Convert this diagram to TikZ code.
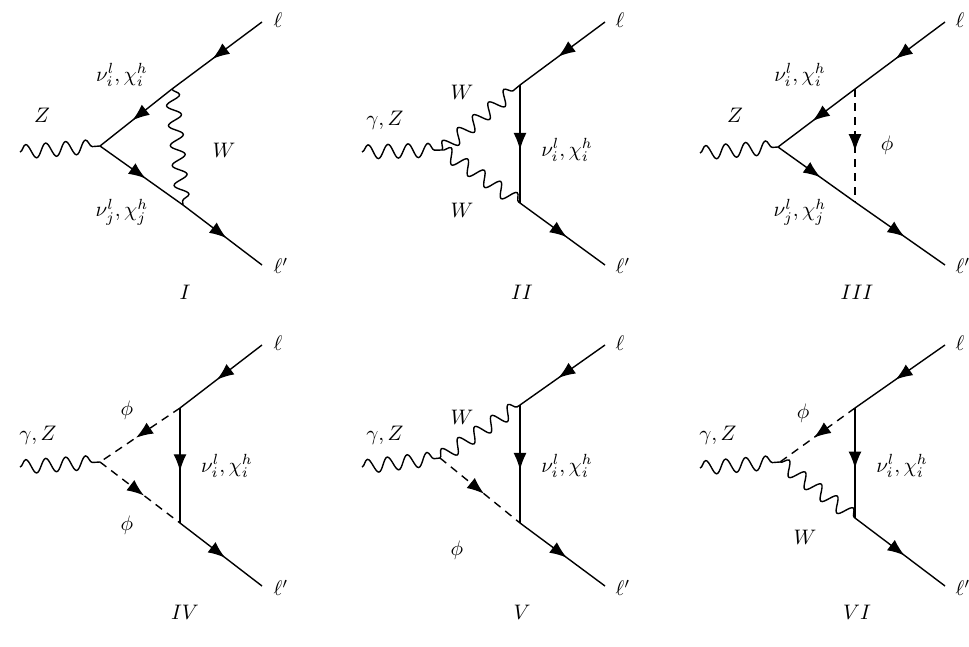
\documentclass[tikz,border=0pt]{standalone}
\usetikzlibrary{decorations.pathmorphing,decorations.markings,arrows.meta}
\newcommand\lb[1]{\scalebox{2.1}{$#1$}}
\begin{document}
\begin{tikzpicture}[x=1pt,y=-1pt,
  line width=1.4pt,
  wave/.style={decorate,decoration={snake,amplitude=7pt,segment length=20pt}},
  ferm/.style={postaction={decorate},decoration={markings,mark=at position 0.55 with {\arrow{Latex[length=17pt,width=13pt]}}}},
  scal/.style={dashed,dash pattern=on 8pt off 6pt},
  lbl/.style={inner sep=0pt}]
\useasboundingbox (0,0) rectangle (969,646);
% ---------- I
\coordinate (Iz) at (20,152); \coordinate (Iv) at (100,146);
\coordinate (Il) at (262,22); \coordinate (Ilp) at (262,265);
\coordinate (Ia) at (172,89); \coordinate (Ib) at (183,205);
\draw[wave] (Iz) -- (Iv);
\draw[ferm] (Il) -- (Ia); \draw[ferm] (Ia) -- (Iv);
\draw[ferm] (Iv) -- (Ib); \draw[ferm] (Ib) -- (Ilp);
\draw[wave] (Ia) -- (Ib);
\node[lbl] (Il-t) at (278,20) {\lb{\ell}};
\node[lbl] (Ilp-t) at (281,266) {\lb{\ell'}};
\node[lbl] (IZ-t) at (42,115) {\lb{Z}};
\node[lbl] (Inu1) at (122,75) {\lb{\nu^l_i,\chi^h_i}};
\node[lbl] (Inu2) at (122,212) {\lb{\nu^l_j,\chi^h_j}};
\node[lbl] (IW) at (224,150) {\lb{W}};
\node[lbl] (In) at (185,292) {\lb{I}};
% ---------- II
\coordinate (Bz) at (362,152); \coordinate (Bv) at (442,150);
\coordinate (Bl) at (605,22); \coordinate (Blp) at (605,265);
\coordinate (Ba) at (520,85); \coordinate (Bb) at (520,203);
\draw[wave] (Bz) -- (Bv);
\draw[wave] (Bv) -- (Ba); \draw[wave] (Bv) -- (Bb);
\draw[ferm] (Bl) -- (Ba); \draw[ferm] (Ba) -- (Bb); \draw[ferm] (Bb) -- (Blp);
\node[lbl] (Bl-t) at (620,20) {\lb{\ell}};
\node[lbl] (Blp-t) at (623,266) {\lb{\ell'}};
\node[lbl] (BZ-t) at (385,120) {\lb{\gamma,Z}};
\node[lbl] (BW1) at (462,92) {\lb{W}};
\node[lbl] (BW2) at (462,210) {\lb{W}};
\node[lbl] (Bnu) at (567,150) {\lb{\nu^l_i,\chi^h_i}};
\node[lbl] (Bn) at (522,292) {\lb{II}};
% ---------- III
\coordinate (Cz) at (700,153); \coordinate (Cv) at (778,147);
\coordinate (Cl) at (945,22); \coordinate (Clp) at (945,265);
\coordinate (Ca) at (855,89); \coordinate (Cb) at (855,202);
\draw[wave] (Cz) -- (Cv);
\draw[ferm] (Cl) -- (Ca); \draw[ferm] (Ca) -- (Cv);
\draw[ferm] (Cv) -- (Cb); \draw[ferm] (Cb) -- (Clp);
\draw[scal] (Ca) -- (Cb);
\draw[ferm,draw=none] (Ca) -- (Cb);
\node[lbl] (Cl-t) at (960,20) {\lb{\ell}};
\node[lbl] (Clp-t) at (963,266) {\lb{\ell'}};
\node[lbl] (CZ-t) at (735,115) {\lb{Z}};
\node[lbl] (Cnu1) at (800,75) {\lb{\nu^l_i,\chi^h_i}};
\node[lbl] (Cnu2) at (800,212) {\lb{\nu^l_j,\chi^h_j}};
\node[lbl] (Cphi) at (887,145) {\lb{\phi}};
\node[lbl] (Cn) at (857,292) {\lb{III}};
% ---------- IV
\coordinate (Dz) at (20,467); \coordinate (Dv) at (100,462);
\coordinate (Dl) at (262,345); \coordinate (Dlp) at (262,586);
\coordinate (Da) at (180,408); \coordinate (Db) at (180,523);
\draw[wave] (Dz) -- (Dv);
\draw[scal] (Da) -- (Dv); \draw[ferm,draw=none] (Da) -- (Dv);
\draw[scal] (Dv) -- (Db); \draw[ferm,draw=none] (Dv) -- (Db);
\draw[ferm] (Dl) -- (Da); \draw[ferm] (Da) -- (Db); \draw[ferm] (Db) -- (Dlp);
\node[lbl] (Dl-t) at (278,343) {\lb{\ell}};
\node[lbl] (Dlp-t) at (281,588) {\lb{\ell'}};
\node[lbl] (DZ-t) at (38,435) {\lb{\gamma,Z}};
\node[lbl] (Dphi1) at (127,410) {\lb{\phi}};
\node[lbl] (Dphi2) at (127,525) {\lb{\phi}};
\node[lbl] (Dnu) at (227,466) {\lb{\nu^l_i,\chi^h_i}};
\node[lbl] (Dn) at (185,612) {\lb{IV}};
% ---------- V
\coordinate (Ez) at (362,467); \coordinate (Ev) at (440,458);
\coordinate (El) at (605,345); \coordinate (Elp) at (605,586);
\coordinate (Ea) at (520,405); \coordinate (Eb) at (520,523);
\draw[wave] (Ez) -- (Ev);
\draw[wave] (Ev) -- (Ea);
\draw[scal] (Ev) -- (Eb); \draw[ferm,draw=none] (Ev) -- (Eb);
\draw[ferm] (El) -- (Ea); \draw[ferm] (Ea) -- (Eb); \draw[ferm] (Eb) -- (Elp);
\node[lbl] (El-t) at (620,343) {\lb{\ell}};
\node[lbl] (Elp-t) at (623,588) {\lb{\ell'}};
\node[lbl] (EZ-t) at (385,435) {\lb{\gamma,Z}};
\node[lbl] (EW) at (462,417) {\lb{W}};
\node[lbl] (Ephi) at (457,550) {\lb{\phi}};
\node[lbl] (Enu) at (567,466) {\lb{\nu^l_i,\chi^h_i}};
\node[lbl] (En) at (522,612) {\lb{V}};
% ---------- VI
\coordinate (Fz) at (700,468); \coordinate (Fv) at (780,462);
\coordinate (Fl) at (945,345); \coordinate (Flp) at (945,586);
\coordinate (Fa) at (855,408); \coordinate (Fb) at (855,518);
\draw[wave] (Fz) -- (Fv);
\draw[scal] (Fa) -- (Fv); \draw[ferm,draw=none] (Fa) -- (Fv);
\draw[wave] (Fv) -- (Fb);
\draw[ferm] (Fl) -- (Fa); \draw[ferm] (Fa) -- (Fb); \draw[ferm] (Fb) -- (Flp);
\node[lbl] (Fl-t) at (960,343) {\lb{\ell}};
\node[lbl] (Flp-t) at (963,588) {\lb{\ell'}};
\node[lbl] (FZ-t) at (718,435) {\lb{\gamma,Z}};
\node[lbl] (Fphi) at (803,413) {\lb{\phi}};
\node[lbl] (FW) at (805,537) {\lb{W}};
\node[lbl] (Fnu) at (902,466) {\lb{\nu^l_i,\chi^h_i}};
\node[lbl] (Fn) at (857,612) {\lb{VI}};
\end{tikzpicture}
\end{document}
